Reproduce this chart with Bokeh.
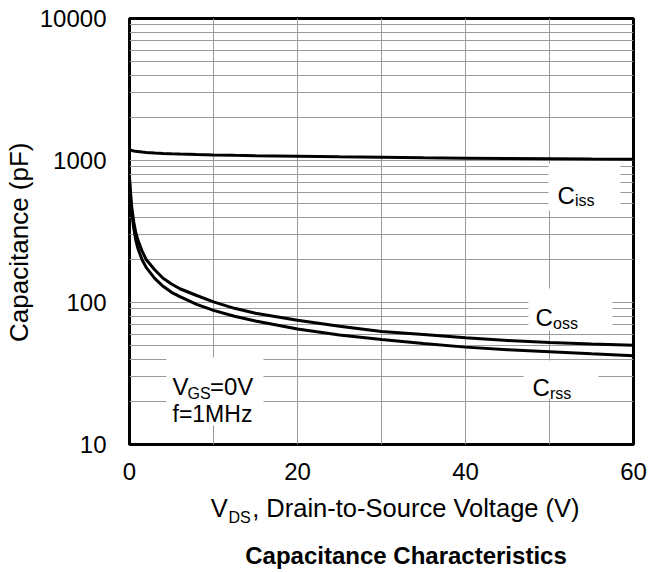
from bokeh.plotting import figure
from bokeh.models import (FixedTicker, Label, BoxAnnotation, Range1d,
                          LinearAxis, LogAxis)
from bokeh.embed import file_html
from bokeh.resources import INLINE
import math

# Drain-to-source voltage (V)
vds = [0, 0.1, 0.25, 0.5, 0.75, 1, 1.5, 2, 3, 4, 5, 6, 8, 10, 12.5, 15,
       20, 25, 30, 35, 40, 45, 50, 55, 60]
# Capacitances (pF)
ciss = [1200, 1190, 1178, 1168, 1160, 1155, 1146, 1140, 1130, 1122, 1116, 1111,
        1102, 1095, 1088, 1082, 1072, 1062, 1053, 1045, 1038, 1032, 1027, 1023, 1020]
coss = [760, 620, 480, 370, 310, 275, 230, 200, 170, 148, 135, 125,
        112, 101, 91, 84, 75, 68, 62.5, 59.5, 56.5, 54, 52.2, 51, 50]
crss = [720, 580, 440, 335, 275, 240, 200, 176, 148, 130, 118, 110,
        97, 88, 80, 74, 65, 59, 54.8, 51.5, 48.5, 46.5, 45, 43.5, 42.2]

x_ticks = [0, 20, 40, 60]
x_grid = [10, 20, 30, 40, 50]
y_ticks = [10, 100, 1000, 10000]
y_minor = [m * d for d in (10, 100, 1000) for m in range(2, 10)]

FONT = "Liberation Sans"
W, H = 650, 572
L, R, T, B = 129, 633, 18, 444   # frame edges in page pixels
X0, X1 = 0, 60
Y0, Y1 = 10, 10000

p = figure(width=W, height=H, y_axis_type="log",
           x_range=Range1d(X0, X1), y_range=Range1d(Y0, Y1),
           output_backend="svg", toolbar_location=None,
           min_border_left=L, min_border_right=W - R,
           min_border_top=T, min_border_bottom=H - B)
p.background_fill_color = "white"
p.border_fill_color = "white"
p.outline_line_color = "black"
p.outline_line_width = 3


def bare(ax, size, standoff, bold=False):
    """Axis that shows its labels only."""
    ax.axis_line_color = None
    ax.major_tick_line_color = None
    ax.minor_tick_line_color = None
    ax.major_tick_out = 0
    ax.major_tick_in = 0
    ax.minor_tick_out = 0
    ax.minor_tick_in = 0
    ax.major_label_standoff = standoff
    ax.major_label_text_font = FONT
    ax.major_label_text_font_size = f"{size}px"
    ax.major_label_text_font_style = "bold" if bold else "normal"
    ax.major_label_text_color = "black"


bare(p.xaxis[0], 24, 18)
bare(p.yaxis[0], 24, 23)
p.xaxis.ticker = FixedTicker(ticks=x_ticks)
p.yaxis.ticker = FixedTicker(ticks=y_ticks, minor_ticks=y_minor)
p.yaxis.major_label_overrides = {t: str(t) for t in y_ticks}

p.xgrid.ticker = FixedTicker(ticks=x_grid)
p.xgrid.grid_line_color = "#9a9a9a"
p.xgrid.grid_line_width = 1
p.ygrid.ticker = FixedTicker(ticks=y_ticks, minor_ticks=y_minor)
p.ygrid.grid_line_color = "#9a9a9a"
p.ygrid.minor_grid_line_color = "#9a9a9a"
p.ygrid.grid_line_width = 1
p.ygrid.minor_grid_line_width = 1


# page pixel -> data coordinate helpers for text placement
def dx(px):
    return round(X0 + (px - L) / (R - L) * (X1 - X0), 3)


def dy(py):
    lo, hi = math.log10(Y0), math.log10(Y1)
    return round(10 ** (lo + (B - py) / (B - T) * (hi - lo)), 3)


# white backgrounds behind the in-plot captions
for (x0, x1, y0, y1) in [(548, 620, 163, 210), (528, 612, 288, 330),
                         (523, 598, 360, 398), (166, 263, 357, 425)]:
    p.add_layout(BoxAnnotation(left=dx(x0), right=dx(x1), top=dy(y0), bottom=dy(y1),
                               fill_color="white", fill_alpha=1.0, line_color=None))

# curves
for ys in (ciss, coss, crss):
    p.line(vds, ys, line_color="black", line_width=3)


def text(px, py, s, size):
    p.add_layout(Label(x=dx(px), y=dy(py), text=s, text_font=FONT,
                       text_font_size=f"{size}px", text_color="black",
                       text_align="left", text_baseline="alphabetic"))


# curve captions
text(557, 195, "C", 24)
text(574.5, 200.5, "iss", 16)
text(535, 317, "C", 24)
text(552.5, 323, "oss", 16)
text(532, 387, "C", 24)
text(549.5, 393, "rss", 16)

# test conditions
text(172, 386, "V", 24)
text(187, 392.5, "GS", 16)
text(209.5, 386, "=0V", 24)
text(172, 413, "f=1MHz", 23)


def caption_row(centers_px, strings, size, standoff, bold=False):
    """Row of texts under the chart, carried by a label-only axis."""
    ticks = [dx(c) for c in centers_px]
    ax = LinearAxis(ticker=FixedTicker(ticks=ticks, minor_ticks=[]),
                    major_label_overrides=dict(zip(ticks, strings)))
    bare(ax, size, standoff, bold)
    p.add_layout(ax, "below")


# horizontal axis title: V, subscript DS, rest of the title
caption_row([218.7, 415.4], ["V", ", Drain-to-Source Voltage (V)"], 25.5, 11)
caption_row([239.1], ["DS"], 16, -16)
# chart caption
caption_row([405.5], ["Capacitance Characteristics"], 24, 13, bold=True)

# vertical axis title
yt = dy(241.7)
yax = LogAxis(ticker=FixedTicker(ticks=[yt], minor_ticks=[]),
              major_label_overrides={yt: "Capacitance (pF)"},
              major_label_orientation="parallel")
bare(yax, 26, 2)
p.add_layout(yax, "left")

open("out.html", "w").write(file_html(p, INLINE))
